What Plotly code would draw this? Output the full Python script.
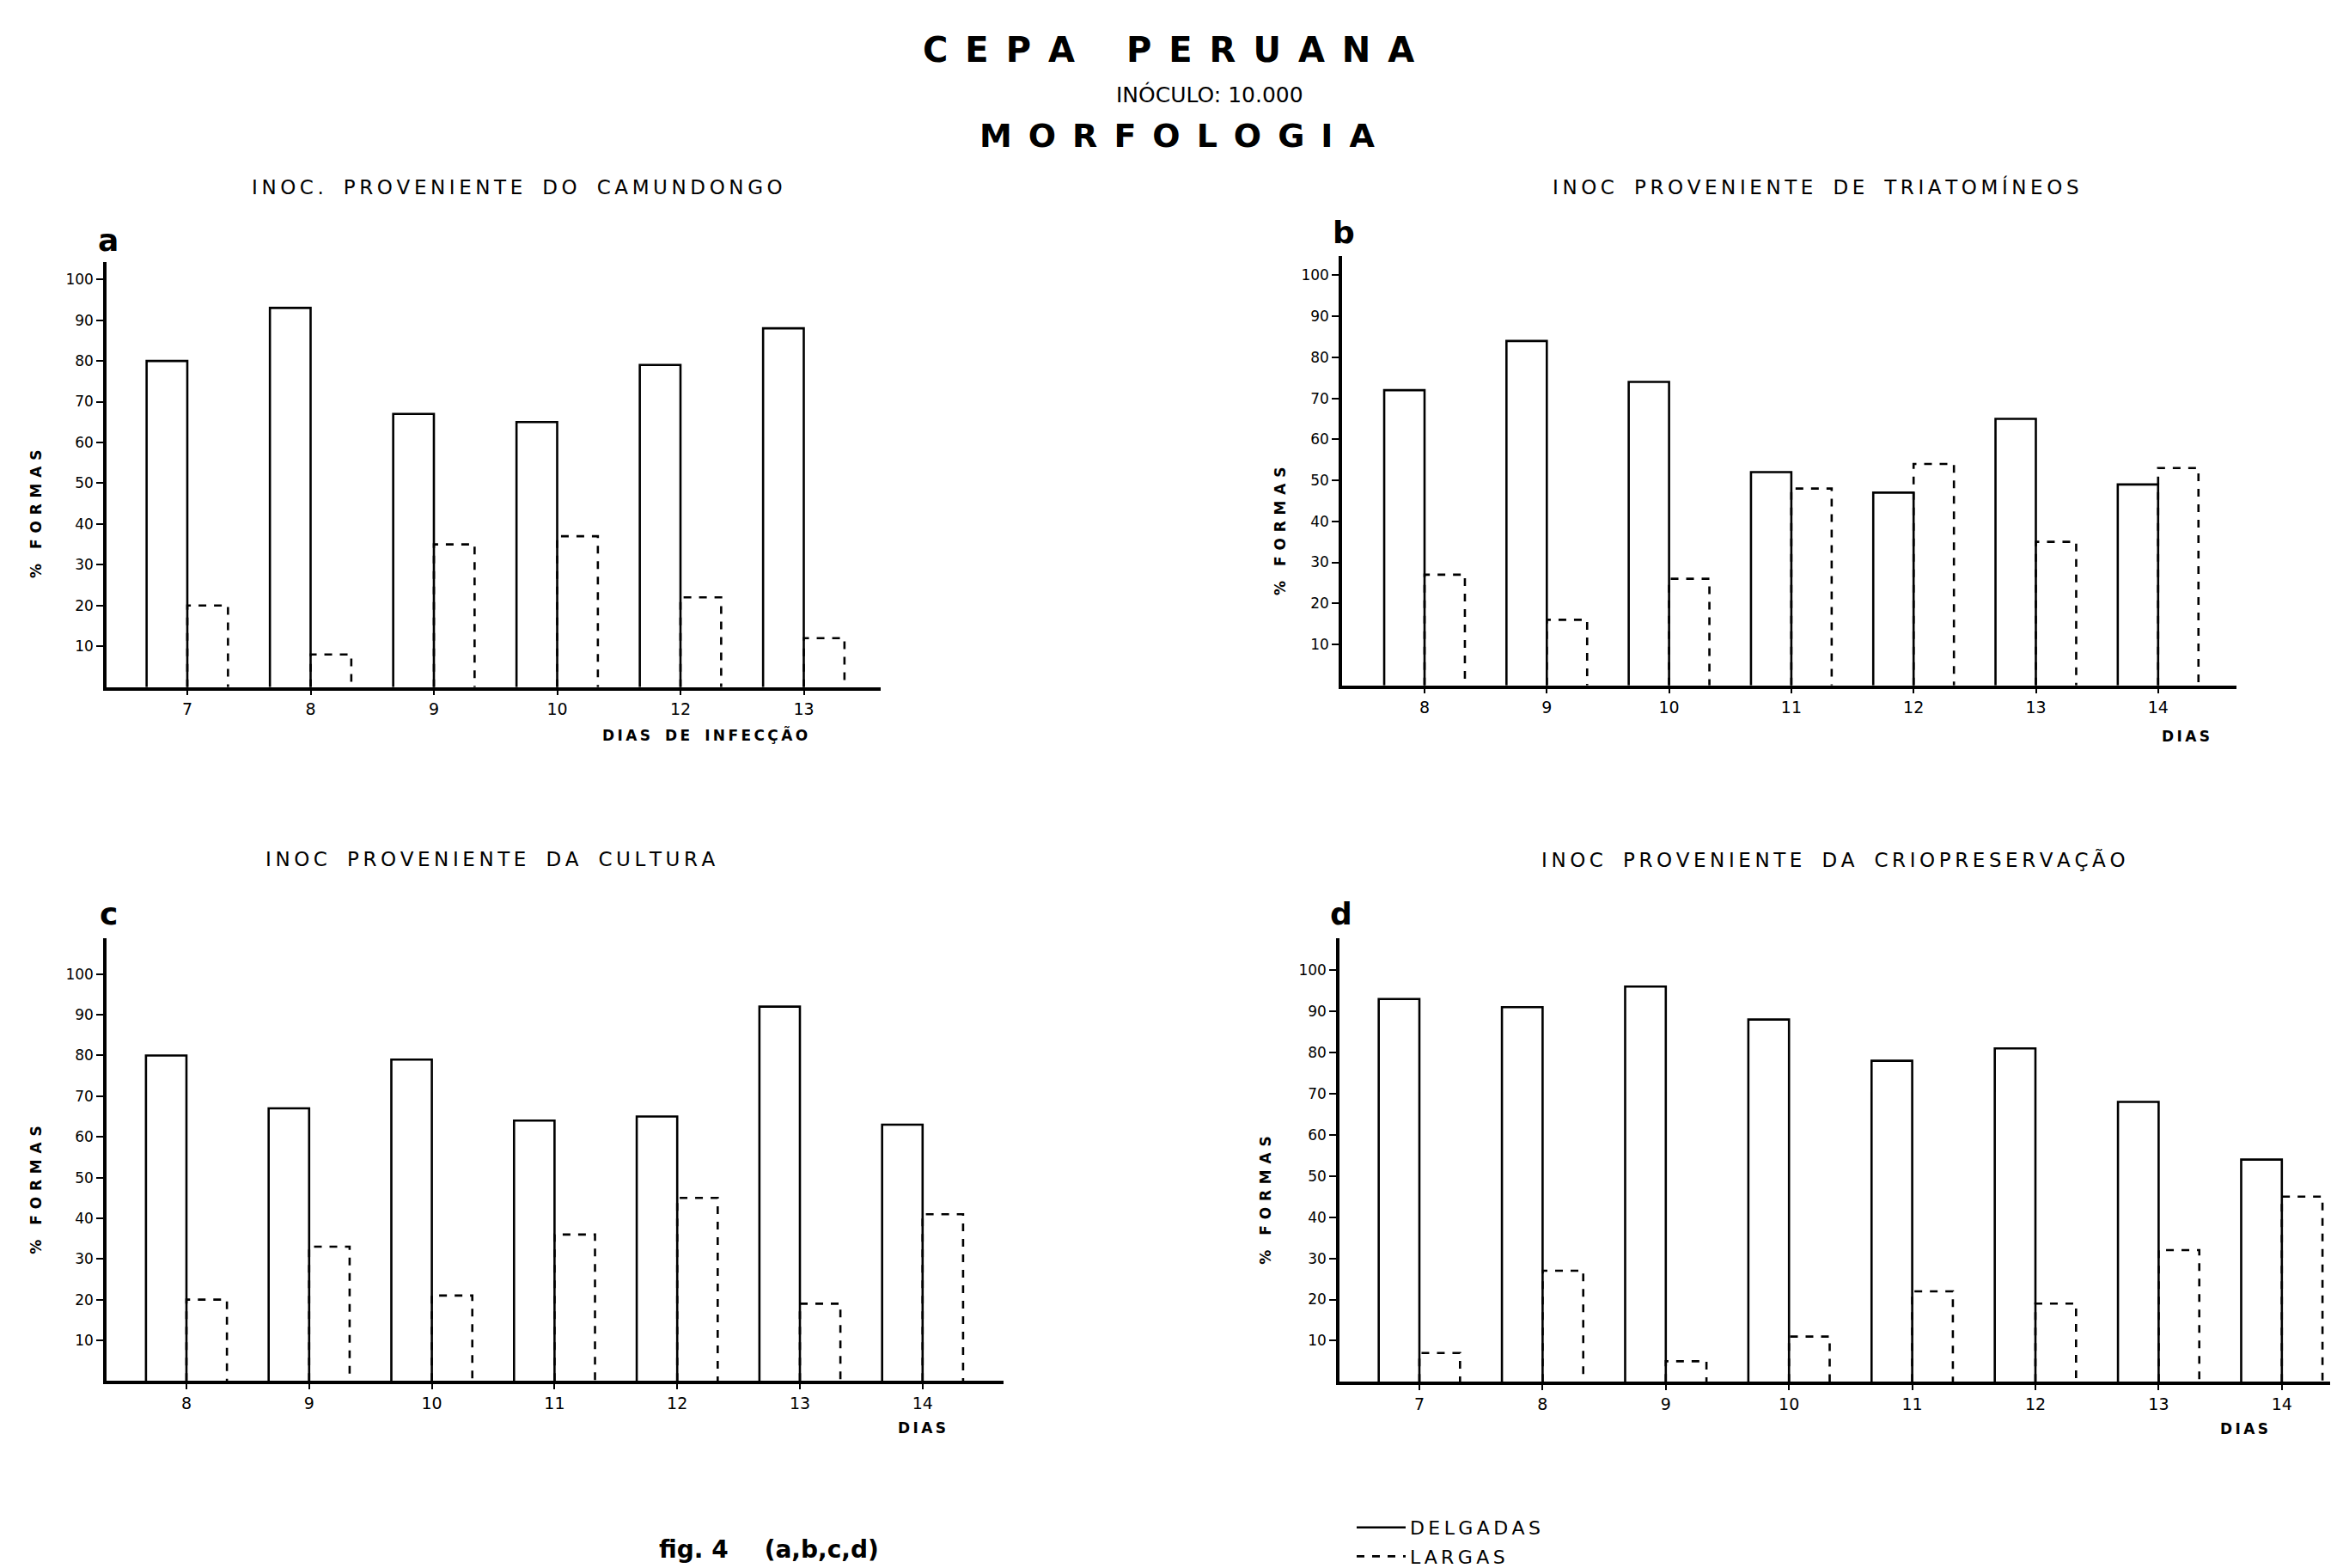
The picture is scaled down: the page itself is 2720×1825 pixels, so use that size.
import plotly.graph_objects as go

# ---------------- data ----------------
days_a = ["7", "8", "9", "10", "12", "13"]
delgadas_a = [80, 93, 67, 65, 79, 88]
largas_a = [20, 8, 35, 37, 22, 12]

days_b = ["8", "9", "10", "11", "12", "13", "14"]
delgadas_b = [72, 84, 74, 52, 47, 65, 49]
largas_b = [27, 16, 26, 48, 54, 35, 53]

days_c = ["8", "9", "10", "11", "12", "13", "14"]
delgadas_c = [80, 67, 79, 64, 65, 92, 63]
largas_c = [20, 33, 21, 36, 45, 19, 41]

days_d = ["7", "8", "9", "10", "11", "12", "13", "14"]
delgadas_d = [93, 91, 96, 88, 78, 81, 68, 54]
largas_d = [7, 27, 5, 11, 22, 19, 32, 45]

y_tick_values = [10, 20, 30, 40, 50, 60, 70, 80, 90, 100]
y_tick_labels = ["10", "20", "30", "40", "50", "60", "70", "80", "90", "100"]

subtitles = [
    "INOC. PROVENIENTE DO CAMUNDONGO",
    "INOC  PROVENIENTE DE TRIATOMÍNEOS",
    "INOC  PROVENIENTE DA CULTURA",
    "INOC  PROVENIENTE DA CRIOPRESERVAÇÃO",
]
panel_letters = ["a", "b", "c", "d"]
x_titles = ["DIAS DE INFECÇÃO", "DIAS", "DIAS", "DIAS"]
y_title = "% FORMAS"
series_names = ["DELGADAS", "LARGAS"]

# ---------------- layout geometry (pixels) ----------------
W, H = 2720, 1825
FONT = "DejaVu Sans"
BAR_W = 0.33

panels = [
    dict(days=days_a, d=delgadas_a, l=largas_a, left=116, right=1017, bottom=793, top=297,
         idx0=210, sp=143.5, y100=317.7, sub=(594, 210), letter=(118, 272), xt=(812, 848),
         yt=(34, 592)),
    dict(days=days_b, d=delgadas_b, l=largas_b, left=1554, right=2595, bottom=791, top=290,
         idx0=1650, sp=142.3, y100=313, sub=(2105, 210), letter=(1556, 263), xt=(2536, 850),
         yt=(1482, 611)),
    dict(days=days_c, d=delgadas_c, l=largas_c, left=116, right=1160, bottom=1602, top=1086,
         idx0=209, sp=142.8, y100=1127.6, sub=(563, 994), letter=(118, 1057), xt=(1065, 1657),
         yt=(34, 1380)),
    dict(days=days_d, d=delgadas_d, l=largas_d, left=1551, right=2719, bottom=1603, top=1086,
         idx0=1644, sp=143.4, y100=1123, sub=(2126, 994), letter=(1553, 1057), xt=(2604, 1658),
         yt=(1465, 1392)),
]


def px(x):
    return x / W


def py(y):
    return 1 - y / H


def spaced(s, sep="\u2009", wordsep="\u2002\u2002"):
    words = s.split()
    return wordsep.join(sep.join(list(w)) for w in words)


def outline(values, o0, o1):
    xs, ys = [], []
    for i, v in enumerate(values):
        xs += [i + o0, i + o0, i + o1, i + o1, None]
        ys += [0, v, v, 0, None]
    return xs, ys


fig = go.Figure()
annotations = []
layout_axes = {}

for k, p in enumerate(panels):
    n = k + 1
    xa = "x" if n == 1 else f"x{n}"
    ya = "y" if n == 1 else f"y{n}"
    # solid bars (left of tick) and dashed bars (right of tick)
    xs, ys = outline(p["d"], -BAR_W, 0)
    fig.add_trace(go.Scatter(x=xs, y=ys, mode="lines", xaxis=xa, yaxis=ya,
                             line=dict(color="black", width=2.6),
                             name=spaced(series_names[0]), legendgroup="d",
                             showlegend=(k == 0), hoverinfo="skip"))
    xs, ys = outline(p["l"], 0, BAR_W)
    fig.add_trace(go.Scatter(x=xs, y=ys, mode="lines", xaxis=xa, yaxis=ya,
                             line=dict(color="black", width=2.6, dash="dash"),
                             name=spaced(series_names[1]), legendgroup="l",
                             showlegend=(k == 0), hoverinfo="skip"))

    xr = [(p["left"] - p["idx0"]) / p["sp"], (p["right"] - p["idx0"]) / p["sp"]]
    ytop = 100 * (p["bottom"] - p["top"]) / (p["bottom"] - p["y100"])
    xkey = "xaxis" if n == 1 else f"xaxis{n}"
    ykey = "yaxis" if n == 1 else f"yaxis{n}"
    layout_axes[xkey] = dict(
        domain=[px(p["left"]), px(p["right"])], range=xr, anchor=ya,
        tickmode="array", tickvals=list(range(len(p["days"]))), ticktext=p["days"],
        showline=True, linecolor="black", linewidth=3.5, showgrid=False, zeroline=False,
        ticks="outside", ticklen=6, tickwidth=2, tickcolor="black",
        tickfont=dict(family=FONT, size=19, color="black"), fixedrange=True)
    layout_axes[ykey] = dict(
        domain=[py(p["bottom"]), py(p["top"])], range=[0, ytop], anchor=xa,
        tickmode="array", tickvals=y_tick_values, ticktext=y_tick_labels,
        showline=True, linecolor="black", linewidth=3.5, showgrid=False, zeroline=False,
        ticks="outside", ticklen=8, tickwidth=2, tickcolor="black",
        tickfont=dict(family=FONT, size=17, color="black"), fixedrange=True)

    annotations.append(dict(x=px(p["sub"][0]), y=py(p["sub"][1]), xref="paper", yref="paper",
                            text=spaced(subtitles[k]), showarrow=False, xanchor="center",
                            yanchor="middle", font=dict(family=FONT, size=23, color="black")))
    annotations.append(dict(x=px(p["letter"][0]), y=py(p["letter"][1]), xref="paper", yref="paper",
                            text="<b>" + panel_letters[k] + "</b>", showarrow=False,
                            xanchor="center", yanchor="middle",
                            font=dict(family=FONT, size=36, color="black")))
    annotations.append(dict(x=px(p["xt"][0]), y=py(p["xt"][1]), xref="paper", yref="paper",
                            text="<b>" + spaced(x_titles[k]) + "</b>", showarrow=False,
                            xanchor="center", yanchor="middle",
                            font=dict(family=FONT, size=17, color="black")))
    annotations.append(dict(x=px(p["yt"][0]), y=py(p["yt"][1]), xref="paper", yref="paper",
                            text="<b>" + spaced(y_title, sep="\u2009\u2009") + "</b>",
                            showarrow=False, textangle=-90,
                            xanchor="center", yanchor="middle",
                            font=dict(family=FONT, size=17, color="black")))

# main titles
annotations.append(dict(x=px(1352), y=py(50), xref="paper", yref="paper",
                        text="<b>" + spaced("CEPA PERUANA", sep="\u2002", wordsep="\u2003\u2002") + "</b>",
                        showarrow=False, xanchor="center", yanchor="middle",
                        font=dict(family=FONT, size=40, color="black")))
annotations.append(dict(x=px(1400), y=py(102), xref="paper", yref="paper",
                        text="INÓCULO: 10.000",
                        showarrow=False, xanchor="center", yanchor="middle",
                        font=dict(family=FONT, size=25, color="black")))
annotations.append(dict(x=px(1362), y=py(150), xref="paper", yref="paper",
                        text="<b>" + spaced("MORFOLOGIA", sep="\u2002") + "</b>",
                        showarrow=False, xanchor="center", yanchor="middle",
                        font=dict(family=FONT, size=38, color="black")))
annotations.append(dict(x=px(1017), y=py(1798), xref="paper", yref="paper",
                        text="<b>fig. 4\u2003\u2002(a,b,c,d)</b>",
                        showarrow=False, xanchor="right", yanchor="middle",
                        font=dict(family=FONT, size=28, color="black")))

fig.update_layout(
    width=W, height=H, margin=dict(l=0, r=0, t=0, b=0, pad=0),
    paper_bgcolor="white", plot_bgcolor="white",
    annotations=annotations,
    showlegend=True,
    legend=dict(x=px(1566), y=py(1752), xanchor="left", yanchor="top",
                font=dict(family=FONT, size=22, color="black"),
                itemwidth=57, bgcolor="rgba(0,0,0,0)", tracegroupgap=2),
    **layout_axes,
)

fig.write_html("out.html")
